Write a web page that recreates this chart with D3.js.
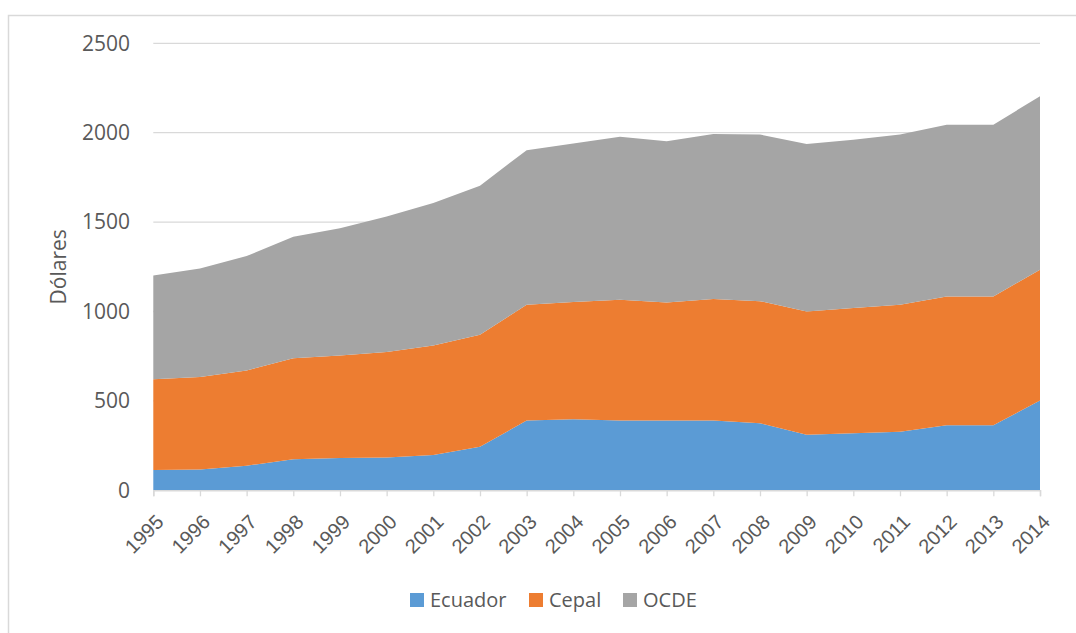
<!DOCTYPE html>
<html>
<head>
<meta charset="utf-8">
<script src="https://cdn.jsdelivr.net/npm/d3@7"></script>
<style>
  html, body { margin: 0; padding: 0; background: #fff; }
  svg { display: block; font-family: "Open Sans", "Noto Sans", sans-serif; }
</style>
</head>
<body>
<script>
// años y series (dólares)
const years   = [1995, 1996, 1997, 1998, 1999, 2000, 2001, 2002, 2003, 2004,
                 2005, 2006, 2007, 2008, 2009, 2010, 2011, 2012, 2013, 2014];
const ecuador = [113, 117, 138, 173, 181, 183, 198, 244, 390, 397,
                 390, 390, 390, 375, 310, 319, 328, 364, 364, 502];
const cepal   = [508, 517, 532, 566, 573, 591, 612, 626, 648, 656,
                 676, 661, 680, 683, 690, 700, 710, 720, 720, 732];
const ocde    = [581, 607, 640, 679, 711, 758, 797, 834, 864, 886,
                 911, 901, 923, 932, 937, 942, 952, 961, 961, 970];
const seriesNames = ["Ecuador", "Cepal", "OCDE"];
const yTicks = [0, 500, 1000, 1500, 2000, 2500];

const colors = ["#5B9BD5", "#ED7D31", "#A5A5A5"];
const textColor = "#595959";
const lineColor = "#D9D9D9";

const width = 1076, height = 633;

const table = years.map((year, i) => ({
  year,
  Ecuador: ecuador[i],
  Cepal: cepal[i],
  OCDE: ocde[i],
}));

const x = d3.scaleLinear().domain([1995, 2014]).range([153.3, 1040]);
const y = d3.scaleLinear().domain([0, 2500]).range([490.3, 43.3]);

const stack = d3.stack().keys(seriesNames);
const layers = stack(table);

const svg = d3.select("body").append("svg")
  .attr("width", width)
  .attr("height", height);

// marco exterior
svg.append("rect")
  .attr("x", 8.5).attr("y", 15.5)
  .attr("width", width + 10).attr("height", height + 10)
  .attr("fill", "none")
  .attr("stroke", lineColor)
  .attr("stroke-width", 1.5);

// líneas de cuadrícula
svg.append("g")
  .selectAll("line")
  .data(yTicks.filter(d => d > 0))
  .join("line")
  .attr("x1", x(1995)).attr("x2", x(2014))
  .attr("y1", d => y(d)).attr("y2", d => y(d))
  .attr("stroke", lineColor)
  .attr("stroke-width", 1.3);

// áreas apiladas
const area = d3.area()
  .x(d => x(d.data.year))
  .y0(d => y(d[0]))
  .y1(d => y(d[1]));

svg.append("g")
  .selectAll("path")
  .data(layers)
  .join("path")
  .attr("fill", (d, i) => colors[i])
  .attr("d", area);

// eje x
const xAxis = svg.append("g")
  .attr("transform", `translate(0,${y(0)})`)
  .call(d3.axisBottom(x).tickValues(years).tickFormat(d3.format("d")).tickSize(6));

xAxis.select(".domain").attr("stroke", lineColor).attr("stroke-width", 1.5);
xAxis.selectAll(".tick line").attr("stroke", lineColor).attr("stroke-width", 1.3);
xAxis.selectAll(".tick text")
  .attr("fill", textColor)
  .attr("font-size", 20)
  .attr("text-anchor", "end")
  .attr("x", 0).attr("y", 0)
  .attr("dy", "0.35em")
  .attr("transform", "translate(6,28) rotate(-45)");

// eje y (solo etiquetas)
svg.append("g")
  .selectAll("text")
  .data(yTicks)
  .join("text")
  .attr("x", 130)
  .attr("y", d => y(d))
  .attr("dy", "0.35em")
  .attr("text-anchor", "end")
  .attr("fill", textColor)
  .attr("font-size", 21)
  .text(d => d);

// título eje y
svg.append("text")
  .attr("transform", `translate(66,${(y(0) + y(2500)) / 2}) rotate(-90)`)
  .attr("text-anchor", "middle")
  .attr("fill", textColor)
  .attr("font-size", 21)
  .text("Dólares");

// leyenda
const legendX = [410, 529, 623];
const legend = svg.append("g")
  .selectAll("g")
  .data(seriesNames)
  .join("g")
  .attr("transform", (d, i) => `translate(${legendX[i]},593)`);

legend.append("rect")
  .attr("width", 14).attr("height", 14)
  .attr("fill", (d, i) => colors[i]);

legend.append("text")
  .attr("x", 20).attr("y", 7)
  .attr("dy", "0.35em")
  .attr("fill", textColor)
  .attr("font-size", 20)
  .text(d => d);
</script>
</body>
</html>
